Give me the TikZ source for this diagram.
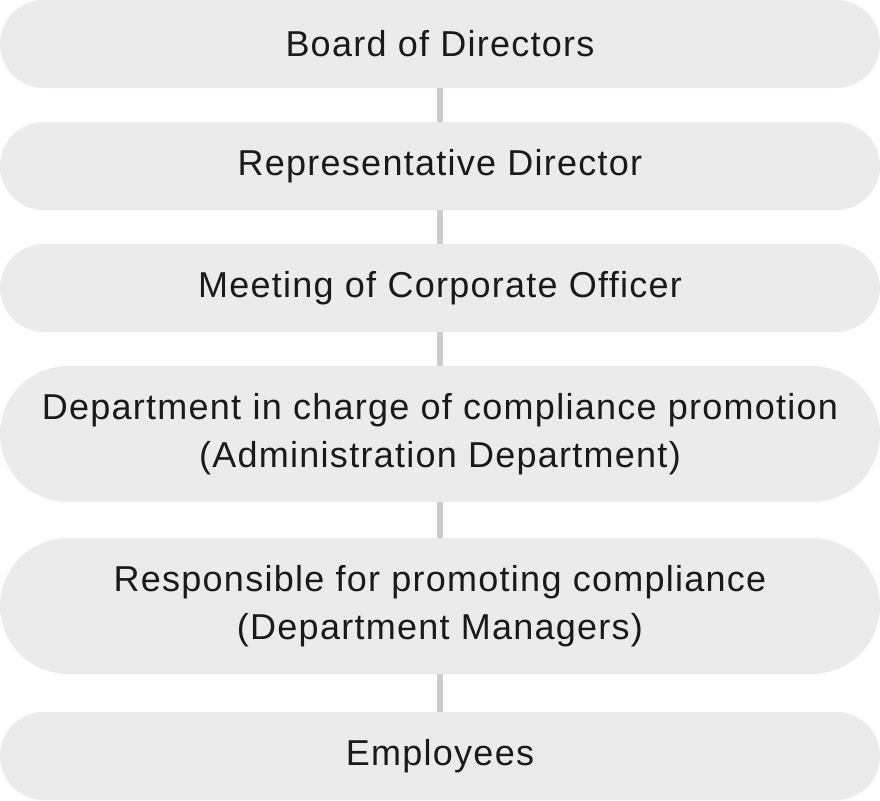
\documentclass[tikz,border=0pt]{standalone}
\usepackage{fontspec}
\setmainfont[LetterSpace=3.5]{Liberation Sans}
\usetikzlibrary{positioning}
\definecolor{pillgray}{RGB}{235,235,235}
\definecolor{linkgray}{RGB}{204,204,204}
\definecolor{inkdark}{RGB}{26,26,26}
\tikzset{
  pill/.style={fill=pillgray, draw=none, minimum width=660pt, minimum height=66pt,
    rounded corners=33pt, inner sep=0pt, align=center, text=inkdark,
    font=\fontsize{27}{36}\selectfont},
  tallpill/.style={pill, minimum height=102pt, rounded corners=51pt},
  link/.style={draw=linkgray, line width=4.5pt}
}
\begin{document}
\begin{tikzpicture}[x=0.75pt,y=0.75pt,yscale=-1,xscale=1]
%set diagram size 880 x 800
\useasboundingbox (0,0) rectangle (880,800);

%Boxes
\node[pill] (board) at (440,44) {Board of Directors};
\node[pill] (repdir) at (440,166) {Representative Director};
\node[pill] (meeting) at (440,288) {Meeting of Corporate Officer};
\node[tallpill] (compdept) at (440,434) {Department in charge of compliance promotion\\(Administration Department)};
\node[tallpill] (promoter) at (440,606) {Responsible for promoting compliance\\(Department Managers)};
\node[pill] (staff) at (440,756) {Employees};

%Connectors
\draw[link] (board) -- (repdir);
\draw[link] (repdir) -- (meeting);
\draw[link] (meeting) -- (compdept);
\draw[link] (compdept) -- (promoter);
\draw[link] (promoter) -- (staff);

\end{tikzpicture}
\end{document}
